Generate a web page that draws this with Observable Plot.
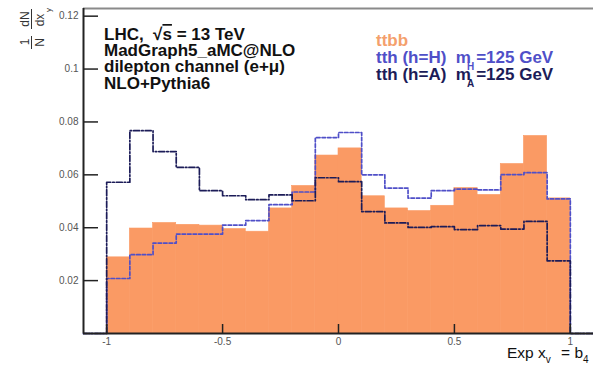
<!DOCTYPE html>
<html>
<head>
<meta charset="utf-8">
<script src="https://cdn.jsdelivr.net/npm/d3@7"></script>
<script src="https://cdn.jsdelivr.net/npm/@observablehq/plot@0.6"></script>
<style>
  html, body { margin: 0; padding: 0; background: #fff; }
  #chart { width: 593px; height: 368px; overflow: hidden; }
  svg text { white-space: pre; }
</style>
</head>
<body>
<div id="chart"></div>
<script>
// ---- data ----
const binEdges = [-1, -0.9, -0.8, -0.7, -0.6, -0.5, -0.4, -0.3, -0.2, -0.1, 0, 0.1, 0.2, 0.3, 0.4, 0.5, 0.6, 0.7, 0.8, 0.9, 1];
const ttbb = [0.0288, 0.0397, 0.0418, 0.0411, 0.0408, 0.0395, 0.0385, 0.0473, 0.0558, 0.0673,
              0.0700, 0.0519, 0.0473, 0.0463, 0.0483, 0.0550, 0.0524, 0.0641, 0.0747, 0.0511];
const tthH = [0.0208, 0.0298, 0.0342, 0.0376, 0.0376, 0.0410, 0.0427, 0.0487, 0.0535, 0.0741,
              0.0760, 0.0600, 0.0550, 0.0512, 0.0540, 0.0546, 0.0543, 0.0601, 0.0608, 0.0509];
const tthA = [0.0572, 0.0767, 0.0688, 0.0628, 0.0540, 0.0521, 0.0506, 0.0524, 0.0502, 0.0589,
              0.0574, 0.0461, 0.0418, 0.0401, 0.0404, 0.0393, 0.0408, 0.0395, 0.0424, 0.0275];
const xTicks = [-1, -0.5, 0, 0.5, 1];
const xTickLabels = ["-1", "-0.5", "0", "0.5", "1"];
const yTicks = [0.02, 0.04, 0.06, 0.08, 0.1, 0.12];
const yTickLabels = ["0.02", "0.04", "0.06", "0.08", "0.1", "0.12"];
const xLimits = [-1.1, 1.1];
const yLimits = [0, 0.1229];
const infoLines = ["LHC,  ", "MadGraph5_aMC@NLO", "dilepton channel (e+\u03bc)", "NLO+Pythia6"];
const legendNames = ["ttbb", "tth (h=H)  m", "tth (h=A)  m"];
const legendSubs = [null, "H", "A"];
const legendTail = [null, "=125 GeV", "=125 GeV"];

// ---- styles ----
const colTT = "#fa9a64";
const colTTtext = "#f4a06c";
const colH = "#4f4fc8";
const colA = "#1c1c58";

const W = 593, H = 368;
const mL = 83, mR = 0, mT = 8, mB = 35;

const bars = ttbb.map((v, i) => ({x1: binEdges[i], x2: binEdges[i + 1], y: v}));
function steps(vals) {
  const pts = [{x: xLimits[0], y: 0}];
  vals.forEach((v, i) => pts.push({x: binEdges[i], y: v}));
  pts.push({x: binEdges[binEdges.length - 1], y: 0});
  pts.push({x: xLimits[1], y: 0});
  return pts;
}

const fmtX = d => xTickLabels[xTicks.indexOf(d)] ?? String(d);
const fmtY = d => yTickLabels[yTicks.findIndex(t => Math.abs(t - d) < 1e-9)] ?? String(d);

const chart = Plot.plot({
  width: W, height: H,
  marginLeft: mL, marginRight: mR, marginTop: mT, marginBottom: mB,
  style: {fontFamily: "Liberation Sans, Arial, sans-serif", fontSize: "10px", color: "#555", background: "#fff"},
  x: {domain: xLimits, ticks: xTicks, tickSize: 0, tickPadding: 4, tickFormat: fmtX, label: null},
  y: {domain: yLimits, ticks: yTicks, tickSize: 0, tickPadding: 5, tickFormat: fmtY, label: null},
  marks: [
    Plot.rectY(bars, {x1: "x1", x2: "x2", y: "y", fill: colTT, stroke: colTT, strokeWidth: 0.6}),
    Plot.line(steps(tthH), {x: "x", y: "y", curve: "step-after", stroke: colH, strokeWidth: 1.7, strokeDasharray: "3.5,2"}),
    Plot.line(steps(tthA), {x: "x", y: "y", curve: "step-after", stroke: colA, strokeWidth: 1.7, strokeDasharray: "6,2,1.5,2"}),
    Plot.tickY(yTicks, {y: d => d, insetRight: (W - mL - mR) - 15, stroke: "#222", strokeWidth: 1.5}),
    Plot.tickX(xTicks, {x: d => d, insetTop: (H - mT - mB) - 9, stroke: "#222", strokeWidth: 1.5}),
    Plot.ruleY([yLimits[1]], {stroke: "#8a8a8a", strokeWidth: 2}),
    Plot.ruleX([xLimits[0]], {stroke: "#222", strokeWidth: 2}),
    Plot.ruleY([yLimits[0]], {stroke: "#222", strokeWidth: 2})
  ]
});
document.getElementById("chart").appendChild(chart);

const svg = d3.select(chart);
const FONT = "Liberation Sans, Arial, sans-serif";

// info block
const info = svg.append("g").attr("font-family", FONT).attr("text-anchor", "start")
  .attr("font-weight", "bold").attr("font-size", 17).attr("fill", "#111");
infoLines.forEach((line, i) => {
  const t = info.append("text").attr("x", 104).attr("y", 40 + i * 16.2);
  t.append("tspan").text(line);
  if (i === 0) {
    t.append("tspan").text("\u221a");
    t.append("tspan").attr("style", "text-decoration: overline").text("s");
    t.append("tspan").text(" = 13 TeV");
  }
});

// legend block
const leg = svg.append("g").attr("font-family", FONT).attr("text-anchor", "start")
  .attr("font-weight", "bold").attr("font-size", 17);
const legColors = [colTTtext, colH, colA];
const legY = [46, 63, 80];
legendNames.forEach((name, i) => {
  const t = leg.append("text").attr("x", 376).attr("y", legY[i]).attr("fill", legColors[i]);
  t.append("tspan").text(name);
  if (legendSubs[i]) {
    t.append("tspan").attr("font-size", 10).attr("dx", -4).attr("dy", 7).text(legendSubs[i]);
    t.append("tspan").attr("dx", 2).attr("dy", -7).text(legendTail[i]);
  }
});

// x axis title
const xt = svg.append("text").attr("x", 507).attr("y", 358).attr("text-anchor", "start")
  .attr("font-family", FONT).attr("font-size", 15.5).attr("fill", "#111");
xt.append("tspan").text("Exp x");
xt.append("tspan").attr("font-size", 10).attr("dx", 0).attr("dy", 5).text("v");
xt.append("tspan").attr("dx", 6).attr("dy", -5).text(" = b");
xt.append("tspan").attr("font-size", 10).attr("dy", 5).text("4");

// y axis title (rotated fractions)
const yl = svg.append("g").attr("transform", "rotate(-90)")
  .attr("font-family", FONT).attr("font-size", 12).attr("fill", "#333");
yl.append("text").attr("x", -42).attr("y", 28.5).attr("text-anchor", "middle").text("1");
yl.append("text").attr("x", -42.5).attr("y", 43.5).attr("text-anchor", "middle").text("N");
yl.append("line").attr("x1", -49).attr("x2", -36).attr("y1", 31.5).attr("y2", 31.5).attr("stroke", "#333").attr("stroke-width", 1);
yl.append("text").attr("x", -19).attr("y", 28.5).attr("text-anchor", "middle").text("dN");
yl.append("text").attr("x", -20).attr("y", 43.5).attr("text-anchor", "middle").text("dx");
yl.append("text").attr("x", -10).attr("y", 51).attr("font-size", 8).attr("text-anchor", "middle").text("y");
yl.append("line").attr("x1", -29).attr("x2", -9).attr("y1", 31.5).attr("y2", 31.5).attr("stroke", "#333").attr("stroke-width", 1);
</script>
</body>
</html>
